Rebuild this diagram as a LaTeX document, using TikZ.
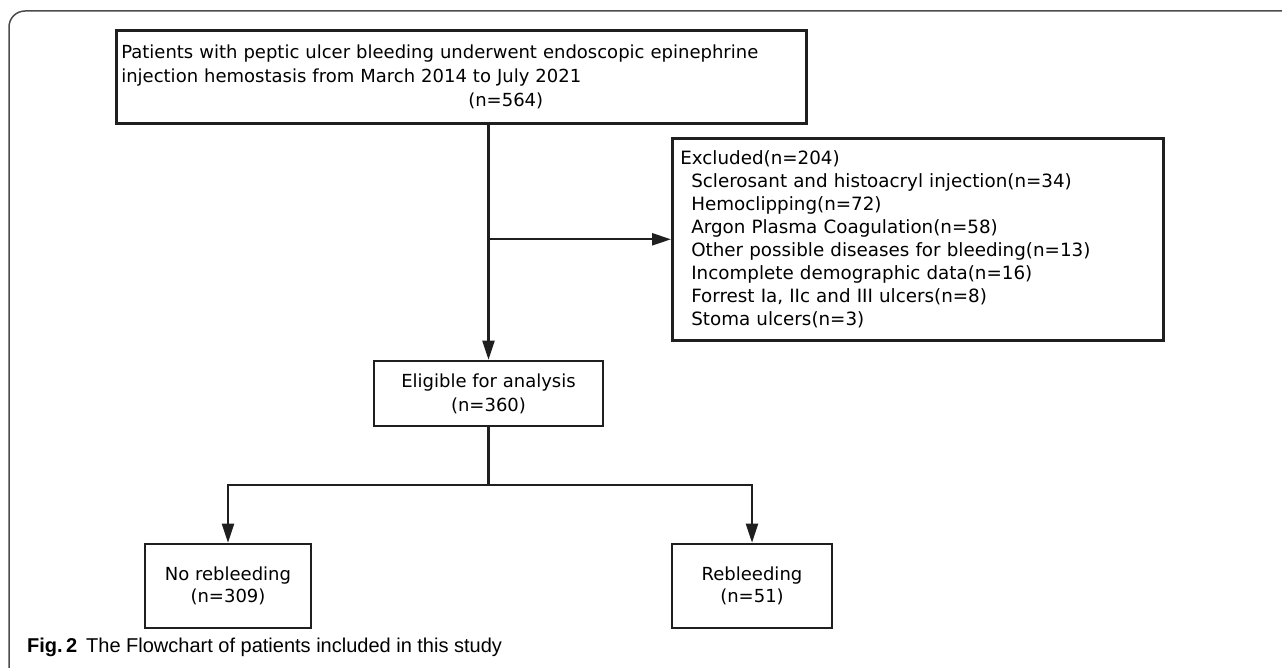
\documentclass[tikz,border=0pt]{standalone}
\usepackage{fontspec}
\setmainfont{DejaVu Sans}
\newfontfamily\capfont{Liberation Sans}
\usetikzlibrary{arrows.meta}

\begin{document}
\begin{tikzpicture}[x=1pt, y=-1pt,
    box/.style={draw=black!88, line width=2.6pt, inner sep=0pt, font=\fontsize{18.3}{23}\selectfont},
    link/.style={draw=black!88, line width=2.2pt},
    >={Triangle[length=19pt, width=12pt]}]

    \useasboundingbox (0,0) rectangle (1282,668);
    \draw[black!70, line width=1.5pt] (9,668) -- (9,27) arc[start angle=180, end angle=270, radius=16] -- (1282,11);

    \node[box, anchor=north west, minimum width=690pt, minimum height=93pt, text width=680pt, align=left, font=\fontsize{18}{24}\selectfont] (patients) at (115,29)
    {Patients with peptic ulcer bleeding underwent endoscopic epinephrine\\
     injection hemostasis from March 2014 to July 2021\\
     \hspace*{347pt}(n=564)};

    \node[box, anchor=north west, minimum width=491pt, minimum height=202pt, text width=475pt, align=left] (excluded) at (671,137)
    {Excluded(n=204)\\
     \hspace*{11pt}Sclerosant and histoacryl injection(n=34)\\
     \hspace*{11pt}Hemoclipping(n=72)\\
     \hspace*{11pt}Argon Plasma Coagulation(n=58)\\
     \hspace*{11pt}Other possible diseases for bleeding(n=13)\\
     \hspace*{11pt}Incomplete demographic data(n=16)\\
     \hspace*{11pt}Forrest Ia, IIc and III ulcers(n=8)\\
     \hspace*{11pt}Stoma ulcers(n=3)};

    \node[box, minimum width=229pt, minimum height=65pt, align=center, font=\fontsize{18}{24}\selectfont] (eligible) at (488.5,393.5)
    {Eligible for analysis\\(n=360)};

    \node[box, minimum width=166pt, minimum height=84pt, align=center, font=\fontsize{18}{22}\selectfont] (norebleed) at (228,586)
    {No rebleeding\\(n=309)};

    \node[box, minimum width=160pt, minimum height=84pt, align=center, font=\fontsize{18}{22}\selectfont] (rebleed) at (752,586)
    {Rebleeding\\(n=51)};

    \path (eligible.south) ++(0,58) coordinate (split);

    \draw[link, ->] (patients.south -| eligible.north) -- (eligible.north);
    \draw[link, ->] (eligible.north |- excluded.west) -- (excluded.west);
    \draw[link] (eligible.south) -- (split);
    \draw[link, ->] (split) -| (norebleed.north);
    \draw[link, ->] (split) -| (rebleed.north);

    \node[anchor=base west, inner sep=0pt, font=\capfont\fontsize{20}{22}\selectfont] (caption) at (27,652)
    {\textbf{Fig.\,2}\hspace{9pt}The Flowchart of patients included in this study};
\end{tikzpicture}
\end{document}
